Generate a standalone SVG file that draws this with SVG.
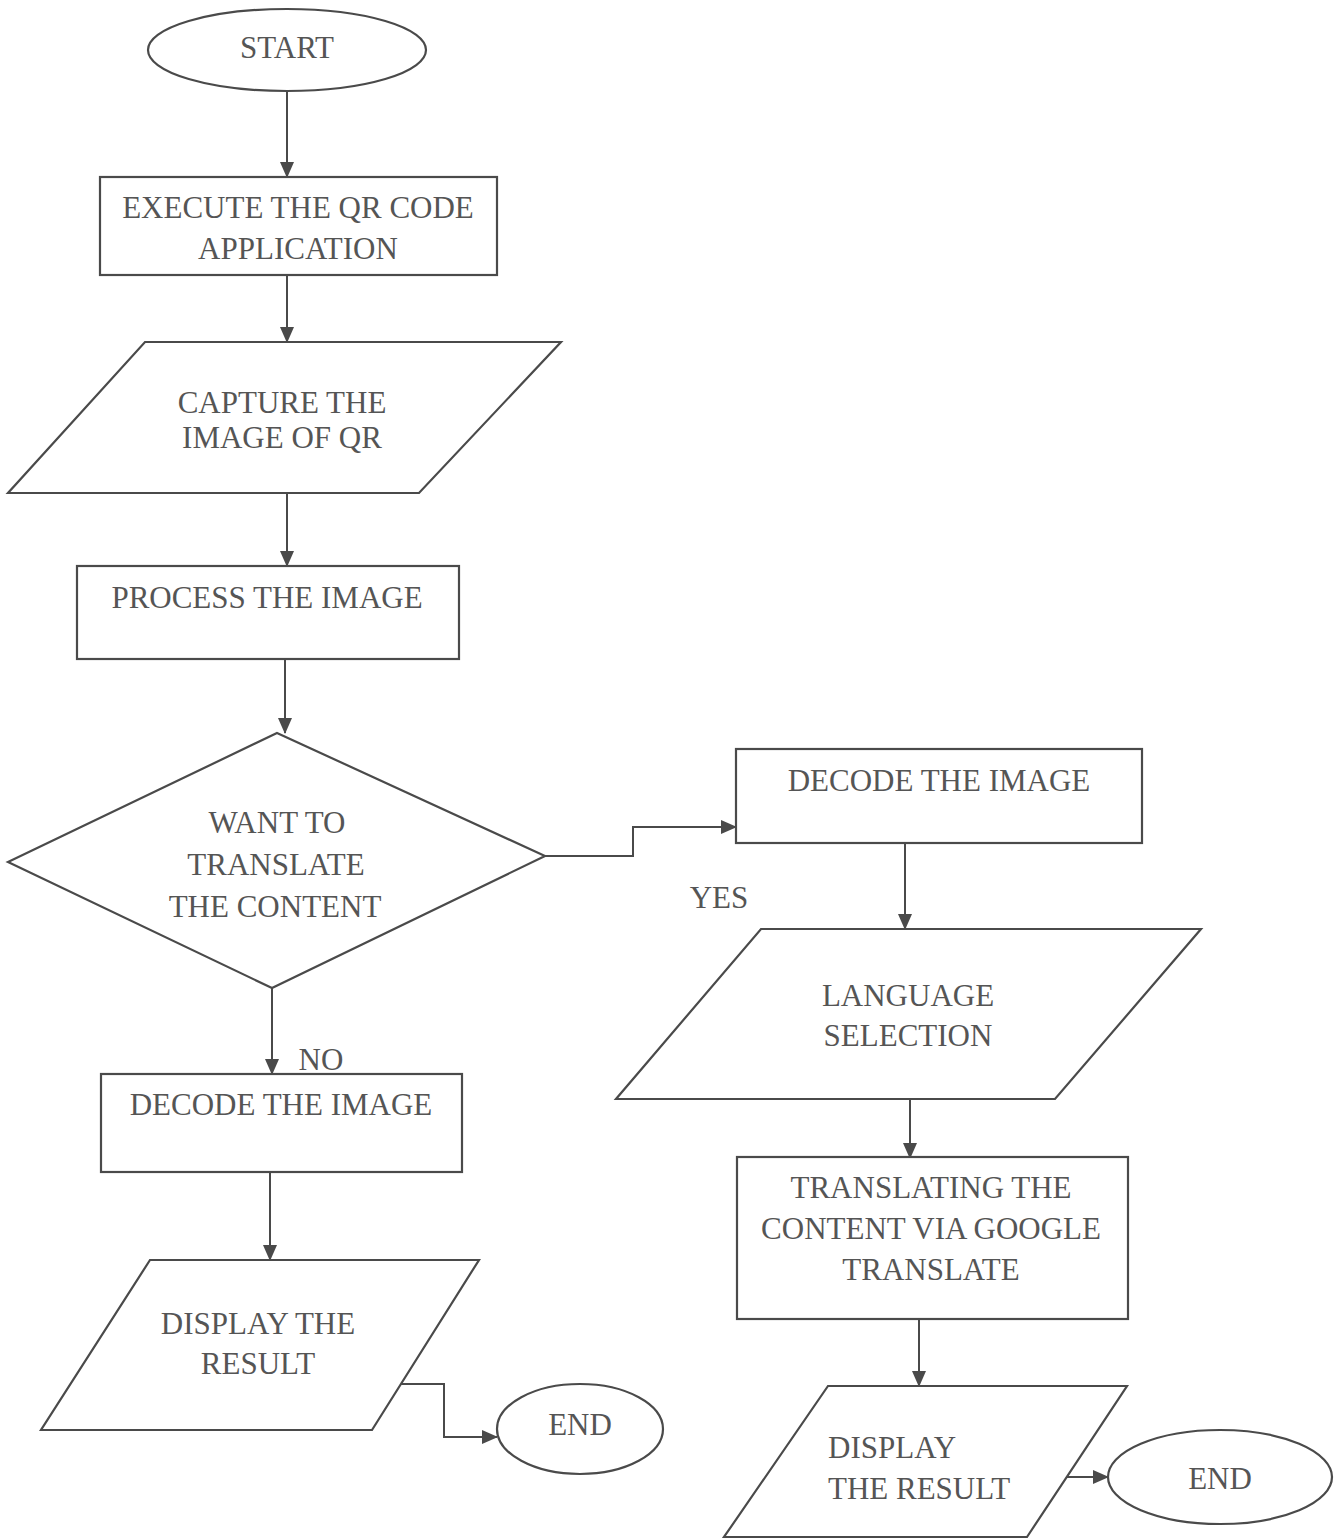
<svg xmlns="http://www.w3.org/2000/svg" width="1339" height="1539" viewBox="0 0 1339 1539">
<defs>
<marker id="ah" markerUnits="userSpaceOnUse" markerWidth="16" markerHeight="14" refX="15" refY="7" orient="auto">
<path d="M0,0 L16,7 L0,14 Z" fill="#4a4a4a"/>
</marker>
<style>
.s{fill:#fff;stroke:#4a4a4a;stroke-width:2.2}
.c{fill:none;stroke:#4a4a4a;stroke-width:2;marker-end:url(#ah)}
.t{font-family:"Liberation Serif","Times New Roman",serif;font-size:31px;fill:#555;text-anchor:middle}
.l{text-anchor:start}
</style>
</defs>
<rect width="1339" height="1539" fill="#fff"/>
<g id="connectors">
<path class="c" d="M287,91 V177"/>
<path class="c" d="M287,275 V342"/>
<path class="c" d="M287,493 V566"/>
<path class="c" d="M285,659 V733"/>
<path class="c" d="M545,856 H633 V827 H736"/>
<path class="c" d="M905,843 V929"/>
<path class="c" d="M910,1099 V1158"/>
<path class="c" d="M919,1319 V1386"/>
<path class="c" d="M1063,1477 H1108"/>
<path class="c" d="M272,988 V1074"/>
<path class="c" d="M270,1172 V1260"/>
<path class="c" d="M400,1384 H444 V1437 H497"/>
</g>
<g id="start"><ellipse class="s" cx="287" cy="50" rx="139" ry="41"/><text class="t" x="287" y="58">START</text></g>
<g id="execute"><rect class="s" x="100" y="177" width="397" height="98"/><text class="t" x="298" y="218">EXECUTE THE QR CODE</text><text class="t" x="298" y="259">APPLICATION</text></g>
<g id="capture"><polygon class="s" points="145,342 561,342 419,493 8,493"/><text class="t" x="282" y="413">CAPTURE THE</text><text class="t" x="282" y="448">IMAGE OF QR</text></g>
<g id="process"><rect class="s" x="77" y="566" width="382" height="93"/><text class="t" x="267" y="608">PROCESS THE IMAGE</text></g>
<g id="decision"><polygon class="s" points="277,733 545,856 272,988 8,862"/><text class="t" x="277" y="833">WANT TO</text><text class="t" x="276" y="875">TRANSLATE</text><text class="t" x="275" y="917">THE CONTENT</text></g>
<g id="yes-label"><text class="t" x="719" y="908">YES</text></g>
<g id="no-label"><text class="t" x="321" y="1070">NO</text></g>
<g id="decode-right"><rect class="s" x="736" y="749" width="406" height="94"/><text class="t" x="939" y="791">DECODE THE IMAGE</text></g>
<g id="language"><polygon class="s" points="761,929 1201,929 1055,1099 616,1099"/><text class="t" x="908" y="1006">LANGUAGE</text><text class="t" x="908" y="1046">SELECTION</text></g>
<g id="translating"><rect class="s" x="737" y="1157" width="391" height="162"/><text class="t" x="931" y="1198">TRANSLATING THE</text><text class="t" x="931" y="1239">CONTENT VIA GOOGLE</text><text class="t" x="931" y="1280">TRANSLATE</text></g>
<g id="display-right"><polygon class="s" points="828,1386 1127,1386 1027,1537 724,1537"/><text class="t l" x="828" y="1458">DISPLAY</text><text class="t l" x="828" y="1499">THE RESULT</text></g>
<g id="end-right"><ellipse class="s" cx="1220" cy="1477" rx="112" ry="47"/><text class="t" x="1220" y="1489">END</text></g>
<g id="decode-left"><rect class="s" x="101" y="1074" width="361" height="98"/><text class="t" x="281" y="1115">DECODE THE IMAGE</text></g>
<g id="display-left"><polygon class="s" points="150,1260 479,1260 372,1430 41,1430"/><text class="t" x="258" y="1334">DISPLAY THE</text><text class="t" x="258" y="1374">RESULT</text></g>
<g id="end-left"><ellipse class="s" cx="580" cy="1429" rx="83" ry="45"/><text class="t" x="580" y="1435">END</text></g>
</svg>
